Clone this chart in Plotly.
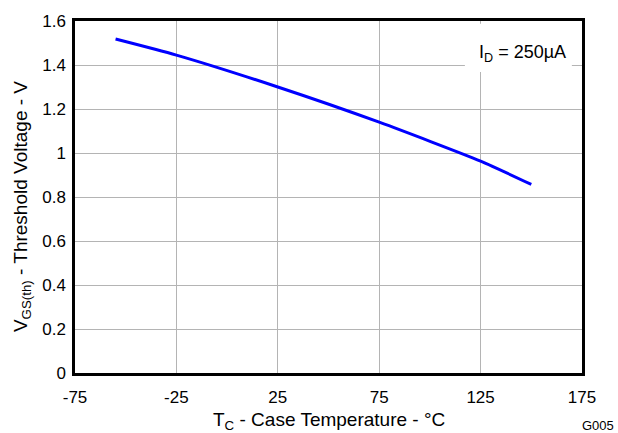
import plotly.graph_objects as go

# Gate threshold voltage vs. case temperature
temp_c = [-55, -25, 25, 75, 125, 150]
vgs_th = [1.518, 1.445, 1.30, 1.14, 0.963, 0.857]

x_ticks = [-75, -25, 25, 75, 125, 175]
x_labels = ["-75", "-25", "25", "75", "125", "175"]
y_ticks = [0, 0.2, 0.4, 0.6, 0.8, 1.0, 1.2, 1.4, 1.6]
y_labels = ["0", "0.2", "0.4", "0.6", "0.8", "1", "1.2", "1.4", "1.6"]

font_family = "Liberation Sans, Arial, sans-serif"

fig = go.Figure()
fig.add_trace(go.Scatter(
    x=temp_c, y=vgs_th, mode="lines",
    line=dict(color="#0000ff", width=3, shape="spline", smoothing=0.6),
    showlegend=False, hoverinfo="skip",
))

axis_common = dict(
    showline=True, linecolor="black", linewidth=2.5, mirror=True,
    showgrid=True, gridcolor="#b4b4b4", gridwidth=1,
    zeroline=False, ticks="", tickfont=dict(size=17, color="black", family=font_family),
)

fig.update_xaxes(range=[-75, 175], tickvals=x_ticks, ticktext=x_labels,
                 ticklabelstandoff=7, **axis_common)
fig.update_yaxes(range=[0, 1.6], tickvals=y_ticks, ticktext=y_labels,
                 ticklabelstandoff=3, **axis_common)

# axis titles
fig.add_annotation(
    xref="paper", yref="paper", x=0.5, y=-0.136, xanchor="center", yanchor="middle",
    text="T<sub>C</sub> - Case Temperature - °C", showarrow=False,
    font=dict(size=19, color="black", family=font_family),
)
fig.add_annotation(
    xref="paper", yref="paper", x=-0.103, y=0.4735, xanchor="center", yanchor="middle",
    text="V<sub>GS(th)</sub> - Threshold Voltage - V", showarrow=False, textangle=-90,
    font=dict(size=19, color="black", family=font_family),
)

# condition label on a white panel over the grid
fig.add_shape(
    type="rect", xref="paper", yref="paper", x0=0.769, x1=0.980, y0=0.855, y1=0.992,
    fillcolor="white", line=dict(width=0), layer="above",
)
fig.add_annotation(
    xref="paper", yref="paper", x=0.882, y=0.909, xanchor="center", yanchor="middle",
    text="I<sub>D</sub> = 250µA", showarrow=False,
    font=dict(size=18, color="black", family=font_family),
)
fig.add_annotation(
    xref="paper", yref="paper", x=1.067, y=-0.148, xanchor="right", yanchor="middle",
    text="G005", showarrow=False,
    font=dict(size=13, color="black", family=font_family),
)

fig.update_layout(
    width=618, height=433,
    margin=dict(l=75, r=36, t=14, b=60),
    paper_bgcolor="white", plot_bgcolor="white",
    font=dict(family=font_family, color="black"),
)

fig.write_html("out.html")
